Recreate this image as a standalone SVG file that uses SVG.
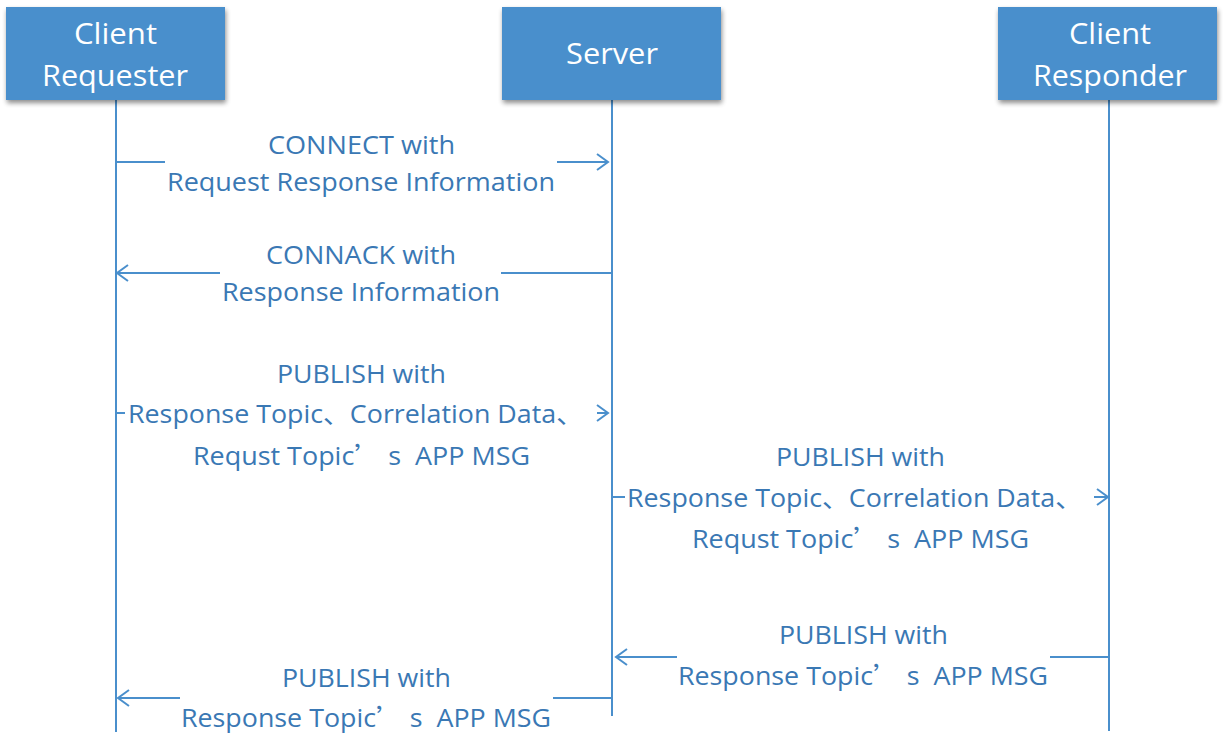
<svg xmlns="http://www.w3.org/2000/svg" width="1226" height="752" viewBox="0 0 1226 752">
<style>
.box{fill:#4a8fcc;}
.hd{fill:#ffffff;font-family:"Open Sans","Noto Sans",sans-serif;font-size:30px;}
.lbl{fill:#3a78b4;font-family:"Open Sans","Noto Sans CJK SC",sans-serif;font-size:25px;}
.cjk{font-family:"Noto Sans CJK SC",sans-serif;}
.ln{stroke:#4a8fcc;stroke-width:2;fill:none;}
</style>
<defs>
<filter id="sh" x="-10%" y="-10%" width="130%" height="140%">
<feGaussianBlur in="SourceAlpha" stdDeviation="2.5"/>
<feOffset dx="1" dy="3" result="b"/>
<feComponentTransfer><feFuncA type="linear" slope="0.45"/></feComponentTransfer>
<feMerge><feMergeNode/><feMergeNode in="SourceGraphic"/></feMerge>
</filter>
<marker id="ah" markerWidth="14" markerHeight="18" refX="12" refY="9" orient="auto" markerUnits="userSpaceOnUse">
<path d="M1,1 L12,9 L1,17" fill="none" stroke="#4a8fcc" stroke-width="2"/>
</marker>
</defs>
<g id="lifelines">
<line class="ln" x1="116" y1="100" x2="116" y2="732"/>
<line class="ln" x1="612" y1="100" x2="612" y2="716"/>
<line class="ln" x1="1109" y1="100" x2="1109" y2="731"/>
</g>
<g id="requester">
<rect class="box" x="6" y="7" width="219" height="93" filter="url(#sh)"/>
<text class="hd" x="74" y="44" textLength="83" lengthAdjust="spacingAndGlyphs">Client</text>
<text class="hd" x="42" y="86" textLength="146" lengthAdjust="spacingAndGlyphs">Requester</text>
</g>
<g id="server">
<rect class="box" x="502" y="7" width="219" height="93" filter="url(#sh)"/>
<text class="hd" x="566" y="64" textLength="92" lengthAdjust="spacingAndGlyphs">Server</text>
</g>
<g id="responder">
<rect class="box" x="998" y="7" width="219" height="93" filter="url(#sh)"/>
<text class="hd" x="1069" y="44" textLength="82" lengthAdjust="spacingAndGlyphs">Client</text>
<text class="hd" x="1033" y="86" textLength="154" lengthAdjust="spacingAndGlyphs">Responder</text>
</g>
<g id="connectors">
<line class="ln" x1="116" y1="162" x2="165" y2="162"/>
<line class="ln" x1="557" y1="162" x2="608" y2="162" marker-end="url(#ah)"/>
<line class="ln" x1="611" y1="273" x2="501" y2="273"/>
<line class="ln" x1="220" y1="273" x2="117" y2="273" marker-end="url(#ah)"/>
<line class="ln" x1="116" y1="413" x2="125" y2="413"/>
<line class="ln" x1="597" y1="413" x2="608" y2="413" marker-end="url(#ah)"/>
<line class="ln" x1="612" y1="497" x2="625" y2="497"/>
<line class="ln" x1="1094" y1="497" x2="1108" y2="497" marker-end="url(#ah)"/>
<line class="ln" x1="1109" y1="657" x2="1050" y2="657"/>
<line class="ln" x1="677" y1="657" x2="616" y2="657" marker-end="url(#ah)"/>
<line class="ln" x1="612" y1="698" x2="553" y2="698"/>
<line class="ln" x1="180" y1="698" x2="118" y2="698" marker-end="url(#ah)"/>
</g>
<g id="labels">
<text class="lbl" x="268" y="154" textLength="187" lengthAdjust="spacingAndGlyphs">CONNECT with</text>
<text class="lbl" x="167" y="191" textLength="388" lengthAdjust="spacingAndGlyphs">Request Response Information</text>
<text class="lbl" x="266" y="264" textLength="190" lengthAdjust="spacingAndGlyphs">CONNACK with</text>
<text class="lbl" x="222" y="301" textLength="278" lengthAdjust="spacingAndGlyphs">Response Information</text>
<text class="lbl" x="277" y="383" textLength="169" lengthAdjust="spacingAndGlyphs">PUBLISH with</text>
<text class="lbl" x="128" y="423" textLength="455" lengthAdjust="spacingAndGlyphs">Response Topic、Correlation Data、</text>
<text class="lbl" x="193" y="465" textLength="337" lengthAdjust="spacingAndGlyphs">Requst Topic<tspan class="cjk">’</tspan> s&#160; APP MSG</text>
<text class="lbl" x="776" y="466" textLength="169" lengthAdjust="spacingAndGlyphs">PUBLISH with</text>
<text class="lbl" x="627" y="507" textLength="455" lengthAdjust="spacingAndGlyphs">Response Topic、Correlation Data、</text>
<text class="lbl" x="692" y="548" textLength="337" lengthAdjust="spacingAndGlyphs">Requst Topic<tspan class="cjk">’</tspan> s&#160; APP MSG</text>
<text class="lbl" x="779" y="644" textLength="169" lengthAdjust="spacingAndGlyphs">PUBLISH with</text>
<text class="lbl" x="678" y="685" textLength="370" lengthAdjust="spacingAndGlyphs">Response Topic<tspan class="cjk">’</tspan> s&#160; APP MSG</text>
<text class="lbl" x="282" y="687" textLength="169" lengthAdjust="spacingAndGlyphs">PUBLISH with</text>
<text class="lbl" x="181" y="727" textLength="370" lengthAdjust="spacingAndGlyphs">Response Topic<tspan class="cjk">’</tspan> s&#160; APP MSG</text>
</g>
</svg>
